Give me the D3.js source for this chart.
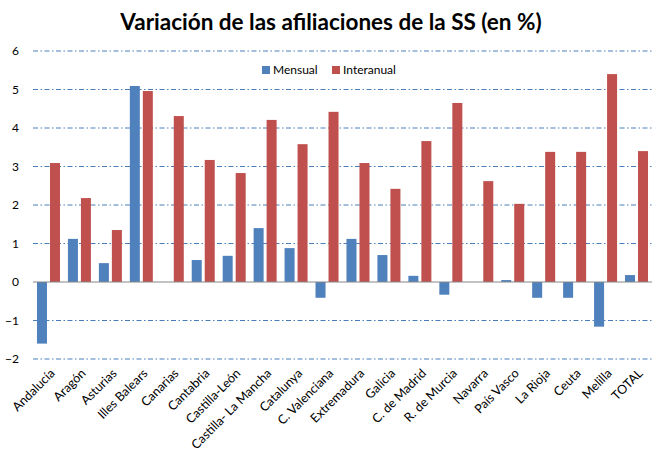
<!DOCTYPE html>
<html><head><meta charset="utf-8">
<script src="https://cdn.jsdelivr.net/npm/d3@7"></script>
<style>body{margin:0;background:#fff}text{font-family:Lato,"Open Sans",sans-serif}</style>
</head><body><svg id="c" width="663" height="458"></svg>
<script>
const categories=["Andalucía","Aragón","Asturias","Illes Balears","Canarias","Cantabria","Castilla-León","Castilla- La Mancha","Catalunya","C. Valenciana","Extremadura","Galicia","C. de Madrid","R. de Murcia","Navarra","País Vasco","La Rioja","Ceuta","Melilla","TOTAL"];
const mensual=[-1.6,1.12,0.49,5.09,0,0.57,0.68,1.40,0.88,-0.41,1.12,0.70,0.16,-0.33,0,0.05,-0.41,-0.41,-1.16,0.18];
const interanual=[3.09,2.18,1.35,4.96,4.31,3.17,2.83,4.21,3.58,4.42,3.09,2.42,3.66,4.65,2.62,2.03,3.38,3.38,5.40,3.40];
const yTicks=[-2,-1,0,1,2,3,4,5,6];
const seriesNames=["Mensual","Interanual"];
const colors=["#4f81bd","#c0504d"];

const svg=d3.select("#c");
const L=33,R=652,T=51,B=359;
const x=d3.scaleBand().domain(categories).range([L,R]);
const y=d3.scaleLinear().domain([-2,6]).range([B,T]);

svg.append("text").attr("x",331).attr("y",30).attr("text-anchor","middle")
  .attr("font-size",22.5).attr("font-weight","bold").text("Variación de las afiliaciones de la SS (en %)");

// gridlines
svg.append("g").selectAll("line").data(yTicks.filter(d=>d!==0)).join("line")
  .attr("x1",L).attr("x2",R).attr("y1",d=>y(d)).attr("y2",d=>y(d))
  .attr("stroke","#4a7ebb").attr("stroke-width",1).attr("stroke-dasharray","5,2.5,1.5,2.5");

// y axis labels
const ya=svg.append("g").attr("transform",`translate(${L},0)`).call(d3.axisLeft(y).tickValues(yTicks).tickSize(0).tickPadding(14).tickFormat(d3.format("d")));
ya.select(".domain").remove();
ya.selectAll("text").attr("font-size",12).attr("fill","#000").style("font-family","Lato,'Open Sans',sans-serif");

const bw=10,gap=3;
const g=svg.append("g");
[mensual,interanual].forEach((vals,si)=>{
  g.append("g").selectAll("rect").data(vals).join("rect")
    .attr("x",(d,i)=>x(categories[i])+x.bandwidth()/2+(si===0?-(bw+gap/2):gap/2))
    .attr("width",bw)
    .attr("y",d=>y(Math.max(0,d)))
    .attr("height",d=>Math.abs(y(d)-y(0)))
    .attr("fill",colors[si]);
});

svg.append("line").attr("x1",L).attr("x2",R).attr("y1",y(0)).attr("y2",y(0)).attr("stroke","#868686").attr("stroke-width",1);

// x labels
svg.append("g").selectAll("text").data(categories).join("text")
  .attr("transform",d=>`translate(${x(d)+x.bandwidth()/2+4},${B+12}) rotate(-45)`)
  .attr("text-anchor","end").attr("font-size",12.5).attr("dy","0.35em").text(d=>d);

// legend
const leg=svg.append("g");
const lx=[262,332];
seriesNames.forEach((n,i)=>{
  leg.append("rect").attr("x",lx[i]).attr("y",66).attr("width",8).attr("height",8).attr("fill",colors[i]);
  leg.append("text").attr("x",lx[i]+11).attr("y",74).attr("font-size",12).text(n);
});
</script></body></html>
